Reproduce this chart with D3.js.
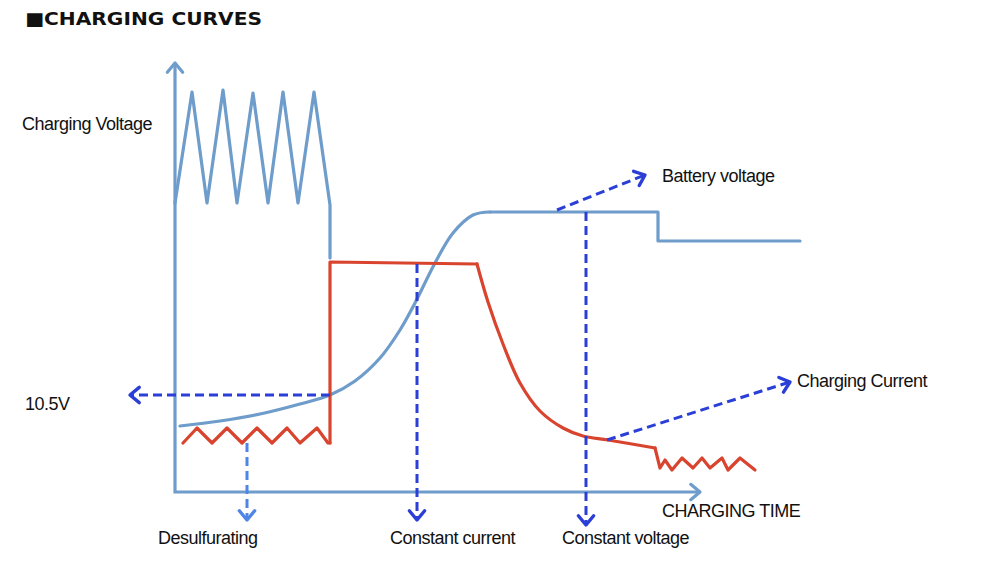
<!DOCTYPE html>
<head>
<meta charset="utf-8">
<style>
    body { margin: 0; background: #fff; }
    text { font-family: "Liberation Sans", Arial, sans-serif; fill: #111; }
    .curve { fill: none; stroke-linejoin: round; stroke-linecap: round; }
</style>
</head>
<body>
    <script src="https://cdnjs.cloudflare.com/ajax/libs/d3/7.8.5/d3.min.js"></script>
    <script>

    ///////////////////////////
    ////////// SETUP //////////
    ///////////////////////////

    const width = 1000, height = 564;

    let svg = d3.select('body').append('svg')
        .attr('width', width)
        .attr('height', height);

    // time 0..125, level 0..80
    let x = d3.scaleLinear().domain([0, 125]).range([175, 800]);
    let y = d3.scaleLinear().domain([0, 80]).range([492, 92]);

    //////////////////////////
    ////////// DATA //////////
    //////////////////////////

    // charging voltage pulses (desulfurating stage), [time, level]
    const pulseVoltage = [
        [0, 57.8], [3.4, 80], [6.4, 57.8], [9.6, 80.4], [12.4, 57.8], [15.6, 79.8],
        [18.6, 57.8], [21.6, 80], [24.6, 57.8], [27.8, 80], [31, 57.4], [31, 46.8]
    ];
    // battery voltage rising curve
    const batteryRise = [
        [1, 13.2], [9, 14.2], [17, 15.6], [25, 17.6], [31, 19.4], [36, 22.2], [41, 26.8],
        [45, 32.4], [48, 37.8], [52, 45.8], [55.6, 51.8], [59.6, 55.4], [63, 56]
    ];
    // battery voltage plateau and float step
    const batteryFloat = [[63, 56], [96.6, 56], [96.6, 50.2], [125, 50.2]];

    // charging current: desulfurating ripple, constant current, taper, float ripple
    const currentRipple = [
        [1.6, 9.8], [4.4, 12.8], [7.4, 9.8], [10.4, 12.8], [13.4, 9.8], [16.4, 12.8],
        [19.4, 9.8], [22.4, 12.8], [25, 9.8], [28.4, 12.8], [30.6, 9.8], [31, 9.8]
    ];
    const currentConst = [[31, 9.8], [31, 46], [60.4, 45.6]];
    const currentTaper = [
        [60.4, 45.6], [62.6, 38], [65.6, 29.6], [69, 21.8], [73, 16.2], [77.6, 12.8],
        [81.6, 11.2], [86.6, 10.4], [96, 8.8]
    ];
    const currentFloat = [
        [96, 8.8], [97, 4.8], [98, 6.4], [99.4, 4.4], [101.4, 6.8], [103.6, 4.8], [105.4, 6.8],
        [107, 4.8], [109.4, 6.8], [110.6, 4.4], [113, 6.8], [116, 4.4]
    ];

    // annotation arrows: from / to in [time, level]
    const arrows = [
        { from: [31, 19.4], to: [-9, 19.4], color: '#2b3fd6' },
        { from: [14.4, 9.8], to: [14.4, -5.6], color: '#4f86e6' },
        { from: [48.4, 45.6], to: [48.4, -5.6], color: '#2b3fd6' },
        { from: [82.2, 56], to: [82.2, -6.6], color: '#2b3fd6' },
        { from: [76.4, 56.4], to: [94, 63.4], color: '#2b3fd6' },
        { from: [86.4, 10.4], to: [123, 22], color: '#2b3fd6' }
    ];

    // labels placed in [time, level]
    const labels = [
        { t: -30.6, v: 72.4, text: 'Charging Voltage' },
        { t: -30, v: 16.4, text: '10.5V' },
        { t: -3.4, v: -10.4, text: 'Desulfurating' },
        { t: 43, v: -10.4, text: 'Constant current' },
        { t: 77.4, v: -10.4, text: 'Constant voltage' },
        { t: 97.4, v: -5, text: 'CHARGING TIME' },
        { t: 97.4, v: 62, text: 'Battery voltage' },
        { t: 124.4, v: 21, text: 'Charging Current' }
    ];

    const axisTop = 85.8, axisRight = 105;

    const blue = '#6e9ccb', red = '#d9442f';

    ////////////////////////////
    ////////// TITLE ///////////
    ////////////////////////////

    svg.append('text')
        .attr('x', 25).attr('y', 25)
        .style('font-family', '"DejaVu Sans", sans-serif')
        .style('font-weight', 'bold')
        .style('font-size', '18px')
        .attr('textLength', 237)
        .attr('lengthAdjust', 'spacingAndGlyphs')
        .text('\u25A0CHARGING CURVES');

    ///////////////////////////
    ////////// AXES ///////////
    ///////////////////////////

    function chevron(g, p0, p1, color, w, size) {
        let ang = Math.atan2(p1[1] - p0[1], p1[0] - p0[0]);
        let a1 = ang + Math.PI * 0.78, a2 = ang - Math.PI * 0.78;
        g.append('path')
            .attr('d', 'M' + (p1[0] + size * Math.cos(a1)) + ',' + (p1[1] + size * Math.sin(a1)) +
                'L' + p1[0] + ',' + p1[1] +
                'L' + (p1[0] + size * Math.cos(a2)) + ',' + (p1[1] + size * Math.sin(a2)))
            .attr('fill', 'none')
            .attr('stroke', color)
            .attr('stroke-width', w)
            .attr('stroke-linecap', 'round')
            .attr('stroke-linejoin', 'round');
    }

    let axes = svg.append('g');
    axes.append('path')
        .attr('d', 'M' + x(0) + ',' + y(axisTop) + 'L' + x(0) + ',' + y(0) + 'L' + x(axisRight) + ',' + y(0))
        .attr('fill', 'none').attr('stroke', blue).attr('stroke-width', 3.2);
    chevron(axes, [x(0), y(0)], [x(0), y(axisTop)], blue, 3.2, 12);
    chevron(axes, [x(0), y(0)], [x(axisRight), y(0)], blue, 3.2, 12);

    /////////////////////////////
    ////////// CURVES ///////////
    /////////////////////////////

    let line = d3.line().x(d => x(d[0])).y(d => y(d[1]));
    let smooth = d3.line().x(d => x(d[0])).y(d => y(d[1])).curve(d3.curveCatmullRom.alpha(0.5));

    svg.append('path').attr('class', 'curve').attr('d', line(pulseVoltage))
        .attr('stroke', blue).attr('stroke-width', 3.2);
    svg.append('path').attr('class', 'curve').attr('d', smooth(batteryRise))
        .attr('stroke', blue).attr('stroke-width', 3.2);
    svg.append('path').attr('class', 'curve').attr('d', line(batteryFloat))
        .attr('stroke', blue).attr('stroke-width', 3.2);

    [currentRipple, currentConst, currentFloat].forEach(pts => {
        svg.append('path').attr('class', 'curve').attr('d', line(pts))
            .attr('stroke', red).attr('stroke-width', 3.2);
    });
    svg.append('path').attr('class', 'curve').attr('d', smooth(currentTaper))
        .attr('stroke', red).attr('stroke-width', 3.2);

    /////////////////////////////
    ////////// ARROWS ///////////
    /////////////////////////////

    let ann = svg.append('g');
    arrows.forEach(a => {
        let p0 = [x(a.from[0]), y(a.from[1])], p1 = [x(a.to[0]), y(a.to[1])];
        ann.append('line')
            .attr('x1', p0[0]).attr('y1', p0[1]).attr('x2', p1[0]).attr('y2', p1[1])
            .attr('stroke', a.color).attr('stroke-width', 3)
            .attr('stroke-dasharray', '9,5');
        chevron(ann, p0, p1, a.color, 3.4, 12);
    });

    /////////////////////////////
    ////////// LABELS ///////////
    /////////////////////////////

    svg.selectAll('text.lbl').data(labels)
        .enter().append('text')
            .attr('class', 'lbl')
            .attr('x', d => x(d.t))
            .attr('y', d => y(d.v))
            .style('font-size', '18px')
            .style('letter-spacing', '-0.5px')
            .text(d => d.text);

    </script>
</body>
